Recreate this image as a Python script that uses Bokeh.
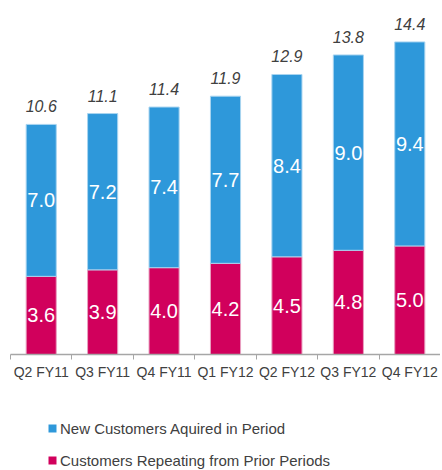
from bokeh.plotting import figure
from bokeh.layouts import column
from bokeh.models import ColumnDataSource, FixedTicker, Legend, LegendItem, Range1d
from bokeh.core.properties import value
from bokeh.embed import file_html
from bokeh.resources import INLINE

categories = ["Q2 FY11", "Q3 FY11", "Q4 FY11", "Q1 FY12", "Q2 FY12", "Q3 FY12", "Q4 FY12"]
repeating = [3.6, 3.9, 4.0, 4.2, 4.5, 4.8, 5.0]
new_customers = [7.0, 7.2, 7.4, 7.7, 8.4, 9.0, 9.4]
totals = [10.6, 11.1, 11.4, 11.9, 12.9, 13.8, 14.4]

series_names = ["New Customers Aquired in Period", "Customers Repeating from Prior Periods"]
BLUE = "#2E98DA"
RED = "#D1005C"
FONT = "Liberation Sans"

n = len(categories)
xs = [i + 0.5 for i in range(n)]
src = ColumnDataSource(dict(
    x=xs,
    rep=repeating,
    new=new_customers,
    tot=totals,
    rep_mid=[r / 2 for r in repeating],
    new_mid=[r + v / 2 for r, v in zip(repeating, new_customers)],
    rep_lbl=[f"{v:.1f}" for v in repeating],
    new_lbl=[f"{v:.1f}" for v in new_customers],
    tot_lbl=[f"{v:.1f}" for v in totals],
))

p = figure(frame_width=430, frame_height=346, output_backend="svg", toolbar_location=None,
           x_range=Range1d(0, n), y_range=Range1d(0, 15.94),
           min_border_left=10, min_border_right=0, min_border_top=8, min_border_bottom=30)
p.outline_line_color = None
p.grid.grid_line_color = None
p.yaxis.visible = False

r_rep = p.vbar(x="x", bottom=0, top="rep", width=0.49, source=src,
               fill_color=RED, line_color="#E8A0C0", line_width=1)
r_new = p.vbar(x="x", bottom="rep", top="tot", width=0.49, source=src,
               fill_color=BLUE, line_color="#A8D4F0", line_width=1)

p.text(x="x", y="rep_mid", text="rep_lbl", source=src, text_color="white",
       text_font=value(FONT), text_font_size="20px", text_align="center", text_baseline="middle")
p.text(x="x", y="new_mid", text="new_lbl", source=src, text_color="white",
       text_font=value(FONT), text_font_size="20px", text_align="center", text_baseline="middle")
p.text(x="x", y="tot", text="tot_lbl", source=src, text_color="#404040", y_offset=-12,
       text_font=value(FONT), text_font_size="16px", text_font_style="italic",
       text_align="center", text_baseline="bottom")

ax = p.xaxis[0]
ax.ticker = FixedTicker(ticks=xs, minor_ticks=list(range(n + 1)))
ax.major_label_overrides = {x: c for x, c in zip(xs, categories)}
ax.major_tick_line_color = None
ax.major_tick_out = 0
ax.major_tick_in = 0
ax.minor_tick_line_color = "#A6A6A6"
ax.minor_tick_out = 5
ax.minor_tick_in = 0
ax.axis_line_color = "#A6A6A6"
ax.axis_line_width = 1.5
ax.major_label_text_font = FONT
ax.major_label_text_font_size = "14px"
ax.major_label_text_color = "#404040"
ax.major_label_standoff = 4

# legend strip below the chart
lg = figure(frame_width=440, frame_height=86, output_backend="svg", toolbar_location=None,
            x_range=Range1d(0, 1), y_range=Range1d(0, 1),
            min_border_left=0, min_border_right=0, min_border_top=0, min_border_bottom=0)
lg.outline_line_color = None
lg.axis.visible = False
lg.grid.grid_line_color = None
l_new = lg.vbar(x=[5], top=[5], bottom=[4], width=0.5, fill_color=BLUE, line_color=None)
l_rep = lg.vbar(x=[5], top=[5], bottom=[4], width=0.5, fill_color=RED, line_color=None)

legend = Legend(items=[LegendItem(label=series_names[0], renderers=[l_new]),
                       LegendItem(label=series_names[1], renderers=[l_rep])],
                location=(47, 1), orientation="vertical",
                glyph_width=10, glyph_height=10, label_height=18, label_standoff=3,
                spacing=14, padding=0, margin=0, border_line_color=None,
                background_fill_alpha=0,
                label_text_font=FONT, label_text_font_size="15px", label_text_color="#404040")
lg.add_layout(legend, "center")

layout = column(p, lg, spacing=0)
open("out.html", "w").write(file_html(layout, INLINE))
